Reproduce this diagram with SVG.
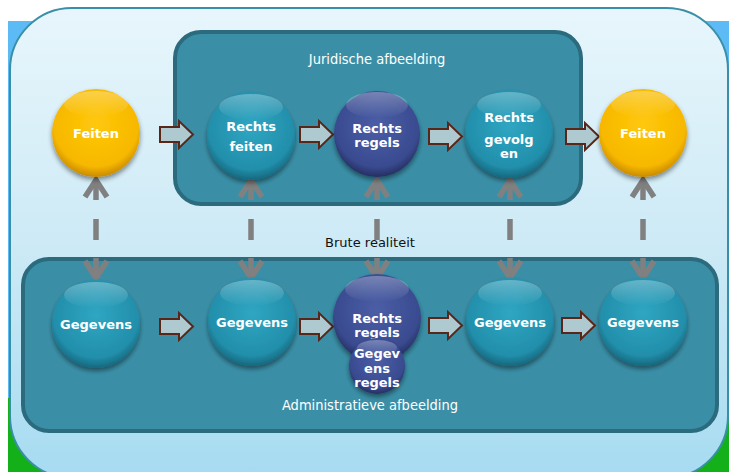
<svg xmlns="http://www.w3.org/2000/svg" width="729" height="472" viewBox="0 0 729 472">
<defs>
<linearGradient id="panel" x1="0" y1="0" x2="0" y2="1">
<stop offset="0" stop-color="#e8f6fc"/>
<stop offset="0.5" stop-color="#cdeaf6"/>
<stop offset="1" stop-color="#a6dbf1"/>
</linearGradient>
<radialGradient id="teal" cx="0.5" cy="0.4" r="0.6">
<stop offset="0" stop-color="#2fa6c2"/>
<stop offset="0.8" stop-color="#228fab"/>
<stop offset="1" stop-color="#16687e"/>
</radialGradient>
<radialGradient id="blue" cx="0.5" cy="0.4" r="0.6">
<stop offset="0" stop-color="#4a5ea6"/>
<stop offset="0.8" stop-color="#3a4b90"/>
<stop offset="1" stop-color="#252f62"/>
</radialGradient>
<radialGradient id="yellow" cx="0.5" cy="0.4" r="0.6">
<stop offset="0" stop-color="#ffc80a"/>
<stop offset="0.8" stop-color="#f7b800"/>
<stop offset="1" stop-color="#c98a00"/>
</radialGradient>
<linearGradient id="gloss" x1="0" y1="0" x2="0" y2="1">
<stop offset="0" stop-color="#ffffff" stop-opacity="0.3"/>
<stop offset="1" stop-color="#ffffff" stop-opacity="0"/>
</linearGradient>
<filter id="sh" x="-30%" y="-30%" width="160%" height="160%">
<feGaussianBlur in="SourceAlpha" stdDeviation="2.5"/>
<feOffset dx="0" dy="3" result="b"/>
<feComponentTransfer><feFuncA type="linear" slope="0.45"/></feComponentTransfer>
<feMerge><feMergeNode/><feMergeNode in="SourceGraphic"/></feMerge>
</filter>
<style>
.node circle.body{filter:url(#sh);}
.lbl{font-family:"DejaVu Sans",Verdana,sans-serif;font-weight:bold;font-size:13px;fill:#ffffff;text-anchor:middle;}
.box{fill:#3a8fa7;stroke:#2b6b7d;stroke-width:4;}
.cap{font-family:"DejaVu Sans Condensed","DejaVu Sans",sans-serif;font-stretch:condensed;font-size:14.5px;fill:#ffffff;text-anchor:middle;}
.blk{fill:#afc9d1;stroke:#5a2618;stroke-width:2;}
.gv{fill:none;stroke:#808080;stroke-width:5.5;}
</style>
</defs>
<rect x="0" y="0" width="729" height="472" fill="#ffffff"/>
<rect x="8" y="21" width="721" height="451" fill="#5cbaf5"/>
<rect x="8" y="398" width="721" height="74" fill="#14b01a"/>
<rect x="10" y="8" width="718" height="470" rx="62" fill="url(#panel)" stroke="#3a8fa8" stroke-width="2"/>
<g id="juridische">
<rect class="box" x="175" y="32" width="406" height="172" rx="26"/>
<text class="cap" x="377" y="64">Juridische afbeelding</text>
</g>
<g id="administratieve">
<rect class="box" x="23" y="259" width="694" height="172" rx="26"/>
<text class="cap" x="370" y="410">Administratieve afbeelding</text>
</g>
<text x="370" y="247" font-family="DejaVu Sans,sans-serif" font-size="13" fill="#111111" text-anchor="middle">Brute realiteit</text>
<g id="connectors">
<g id="vert">
<g transform="translate(96,0)"><polyline class="gv" points="-11,197 0,180 11,197"/><line class="gv" x1="0" y1="180" x2="0" y2="200"/><line class="gv" x1="0" y1="219" x2="0" y2="240"/><line class="gv" x1="0" y1="258" x2="0" y2="278"/><polyline class="gv" points="-11,261 0,278 11,261"/></g>
<g transform="translate(251,0)"><polyline class="gv" points="-11,197 0,180 11,197"/><line class="gv" x1="0" y1="180" x2="0" y2="200"/><line class="gv" x1="0" y1="219" x2="0" y2="240"/><line class="gv" x1="0" y1="258" x2="0" y2="278"/><polyline class="gv" points="-11,261 0,278 11,261"/></g>
<g transform="translate(377,0)"><polyline class="gv" points="-11,197 0,180 11,197"/><line class="gv" x1="0" y1="180" x2="0" y2="200"/><line class="gv" x1="0" y1="219" x2="0" y2="240"/><line class="gv" x1="0" y1="258" x2="0" y2="278"/><polyline class="gv" points="-11,261 0,278 11,261"/></g>
<g transform="translate(510,0)"><polyline class="gv" points="-11,197 0,180 11,197"/><line class="gv" x1="0" y1="180" x2="0" y2="200"/><line class="gv" x1="0" y1="219" x2="0" y2="240"/><line class="gv" x1="0" y1="258" x2="0" y2="278"/><polyline class="gv" points="-11,261 0,278 11,261"/></g>
<g transform="translate(643,0)"><polyline class="gv" points="-11,197 0,180 11,197"/><line class="gv" x1="0" y1="180" x2="0" y2="200"/><line class="gv" x1="0" y1="219" x2="0" y2="240"/><line class="gv" x1="0" y1="258" x2="0" y2="278"/><polyline class="gv" points="-11,261 0,278 11,261"/></g>
</g>
<g id="flow">
<path class="blk" d="M160,127 H179 V121 L193,134.5 L179,148 V142 H160 Z"/>
<path class="blk" d="M300,127 H319 V121 L333,134.5 L319,148 V142 H300 Z"/>
<path class="blk" d="M429,129 H448 V123 L462,136.5 L448,150 V144 H429 Z"/>
<path class="blk" d="M566,129 H585 V123 L599,136.5 L585,150 V144 H566 Z"/>
<path class="blk" d="M160,319 H179 V313 L193,326.5 L179,340 V334 H160 Z"/>
<path class="blk" d="M300,319 H319 V313 L333,326.5 L319,340 V334 H300 Z"/>
<path class="blk" d="M429,318 H448 V312 L462,325.5 L448,339 V333 H429 Z"/>
<path class="blk" d="M562,318 H581 V312 L595,325.5 L581,339 V333 H562 Z"/>
</g>
</g>
<g id="feiten1" class="node"><circle class="body" cx="96" cy="133" r="44" fill="url(#yellow)"/><ellipse cx="96" cy="104" rx="32" ry="13" fill="url(#gloss)"/><text class="lbl" x="96" y="138">Feiten</text></g>
<g id="rechtsfeiten" class="node"><circle class="body" cx="251" cy="136" r="44" fill="url(#teal)"/><ellipse cx="251" cy="107" rx="32" ry="13" fill="url(#gloss)"/><text class="lbl" x="251" y="131">Rechts</text><text class="lbl" x="251" y="151">feiten</text></g>
<g id="rechtsregels1" class="node"><circle class="body" cx="377" cy="134" r="43" fill="url(#blue)"/><ellipse cx="377" cy="105" rx="31" ry="13" fill="url(#gloss)"/><text class="lbl" x="377" y="133">Rechts</text><text class="lbl" x="377" y="147">regels</text></g>
<g id="rechtsgevolgen" class="node"><circle class="body" cx="509" cy="134" r="44" fill="url(#teal)"/><ellipse cx="509" cy="105" rx="32" ry="13" fill="url(#gloss)"/><text class="lbl" x="509" y="122">Rechts</text><text class="lbl" x="509" y="144">gevolg</text><text class="lbl" x="509" y="158">en</text></g>
<g id="feiten2" class="node"><circle class="body" cx="643" cy="133" r="44" fill="url(#yellow)"/><ellipse cx="643" cy="104" rx="32" ry="13" fill="url(#gloss)"/><text class="lbl" x="643" y="138">Feiten</text></g>
<g id="gegevens1" class="node"><circle class="body" cx="96" cy="324" r="44" fill="url(#teal)"/><ellipse cx="96" cy="295" rx="32" ry="13" fill="url(#gloss)"/><text class="lbl" x="96" y="329">Gegevens</text></g>
<g id="gegevens2" class="node"><circle class="body" cx="252" cy="322" r="44" fill="url(#teal)"/><ellipse cx="252" cy="293" rx="32" ry="13" fill="url(#gloss)"/><text class="lbl" x="252" y="327">Gegevens</text></g>
<g id="rechtsregels2" class="node"><circle class="body" cx="377" cy="318" r="44" fill="url(#blue)"/><ellipse cx="377" cy="289" rx="32" ry="13" fill="url(#gloss)"/><text class="lbl" x="377" y="323">Rechts</text><text class="lbl" x="377" y="337">regels</text></g>
<g id="gegevensregels" class="node"><circle class="body" cx="377" cy="366" r="28" fill="url(#blue)"/><ellipse cx="377" cy="348" rx="20" ry="8" fill="url(#gloss)"/><text class="lbl" x="377" y="358">Gegev</text><text class="lbl" x="377" y="373">ens</text><text class="lbl" x="377" y="387">regels</text></g>
<g id="gegevens3" class="node"><circle class="body" cx="510" cy="322" r="44" fill="url(#teal)"/><ellipse cx="510" cy="293" rx="32" ry="13" fill="url(#gloss)"/><text class="lbl" x="510" y="327">Gegevens</text></g>
<g id="gegevens4" class="node"><circle class="body" cx="643" cy="322" r="44" fill="url(#teal)"/><ellipse cx="643" cy="293" rx="32" ry="13" fill="url(#gloss)"/><text class="lbl" x="643" y="327">Gegevens</text></g>
</svg>
